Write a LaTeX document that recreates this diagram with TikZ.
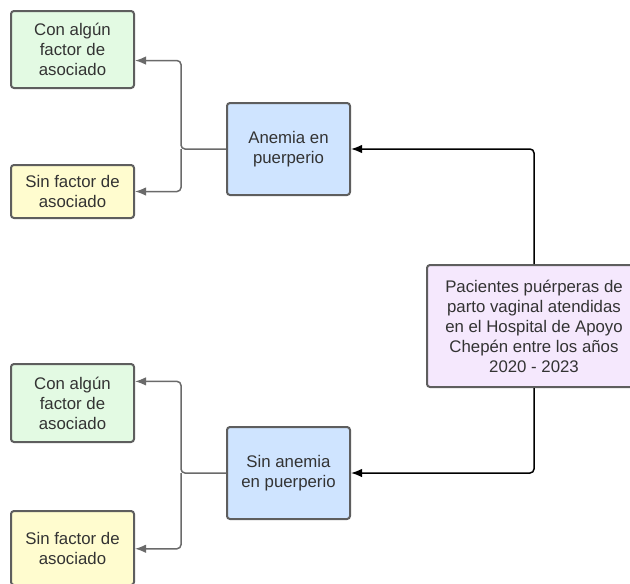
\documentclass[tikz,border=0pt]{standalone}
\usepackage{fontspec}
\setmainfont{Liberation Sans}
\usetikzlibrary{positioning,
    arrows.meta,
    calc}

\definecolor{boxline}{HTML}{5E5E5E}
\definecolor{linkgray}{HTML}{6A6A6A}
\definecolor{txtgray}{HTML}{333333}
\definecolor{greenfill}{HTML}{E3FAE3}
\definecolor{yellowfill}{HTML}{FFFCCF}
\definecolor{bluefill}{HTML}{CFE4FF}
\definecolor{pinkfill}{HTML}{F5E8FD}

\begin{document}
\begin{tikzpicture} [x = 1pt, y = -1pt,
    every node/.style = {font = \fontsize{16.8}{20}\selectfont, text = txtgray, align = center},
    box/.style = {draw = boxline, line width = 2pt, rounded corners = 3pt,
        inner sep = 0pt, minimum width = 123pt},
    grayarrow/.style = {draw = linkgray, line width = 1.5pt, rounded corners = 4pt,
        -{Latex[length = 11pt, width = 8.5pt]}},
    blackarrow/.style = {draw = black, line width = 1.5pt, rounded corners = 4pt,
        -{Latex[length = 11pt, width = 8.5pt]}}]
\useasboundingbox (0,0) rectangle (630,584);

\node[box, fill = pinkfill, minimum width = 214pt, minimum height = 122pt] (pac) at (534,326)
    {Pacientes puérperas de\\parto vaginal atendidas\\en el Hospital de Apoyo\\Chepén entre los años\\2020 - 2023};

\node[box, fill = bluefill, minimum height = 92pt] (anemia) at (288.5,149) {Anemia en\\puerperio};
\node[box, fill = bluefill, minimum height = 92pt] (noanemia) at (288.5,473) {Sin anemia\\en puerperio};

\node[box, fill = greenfill, minimum height = 77pt] (con1) at (72.5,49.5) {Con algún\\factor de\\asociado};
\node[box, fill = yellowfill, minimum height = 53pt] (sin1) at (72.5,191.5) {Sin factor de\\asociado};
\node[box, fill = greenfill, minimum height = 78pt] (con2) at (72.5,403) {Con algún\\factor de\\asociado};
\node[box, fill = yellowfill, minimum height = 74pt] (sin2) at (72.5,548) {Sin factor de\\asociado};

\coordinate (j1) at (181,149);
\coordinate (j2) at (181,473);

% from the patients box
\draw[blackarrow] (pac.north) |- (anemia.east);
\draw[blackarrow] (pac.south) |- (noanemia.east);

% anemia branch
\draw[grayarrow] (anemia.west) -- (j1) |- ($(con1.north east)!0.64!(con1.south east)$);
\draw[grayarrow] (j1) |- (sin1.east);

% no anemia branch
\draw[grayarrow] (noanemia.west) -- (j2) |- ($(con2.north east)!0.23!(con2.south east)$);
\draw[grayarrow] (j2) |- ($(sin2.north east)!0.51!(sin2.south east)$);
\end{tikzpicture}
\end{document}
